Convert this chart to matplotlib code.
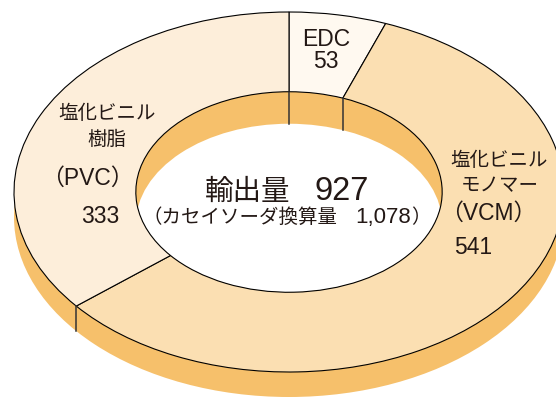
import numpy as np
import matplotlib
matplotlib.use("Agg")
import matplotlib.pyplot as plt
from matplotlib.patches import Ellipse
from matplotlib.transforms import Affine2D

# Latin glyphs from a Helvetica-like face, Japanese falls back to Noto CJK
plt.rcParams["font.family"] = ["Liberation Sans", "Noto Sans CJK JP"]

# slices, clockwise from 12 o'clock
categories = ["EDC", "VCM", "PVC"]
values = [53, 541, 333]
face_colors = ["#FFF9F0", "#FBDFB2", "#FDEEDA"]
side_color = "#F6C06B"

export_total = 927
soda_total = "1,078"

# ring geometry (pixels)
CX, CY = 289, 193
RX, RY = 275, 180
HOLE = 0.557
DEPTH_OUT = 25
DEPTH_IN = 32

fig = plt.figure(figsize=(5.56, 4.02), dpi=100)
ax = fig.add_axes([0, 0, 1, 1])


def squash(dy=0):
    # unit circle -> tilted ellipse in pixel space
    return Affine2D().scale(RX, -RY).translate(CX, CY + dy) + ax.transData


# outer side band: the whole ring pushed down
side = Ellipse((0, 0), 2, 2, facecolor=side_color, edgecolor="none", zorder=1)
ax.add_patch(side)
side.set_transform(squash(DEPTH_OUT))

# hole: far inner wall plus the see-through part
wall = Ellipse((0, 0), 2 * HOLE, 2 * HOLE, facecolor=side_color,
               edgecolor="none", zorder=1.5)
ax.add_patch(wall)
wall.set_transform(squash())
through = Ellipse((0, 0), 2 * HOLE, 2 * HOLE, facecolor="white",
                  edgecolor="none", zorder=1.6)
ax.add_patch(through)
through.set_transform(squash(DEPTH_IN))
through.set_clip_path(wall)

# top face
wedges, _ = ax.pie(values, colors=face_colors, startangle=90,
                   counterclock=False, radius=1, frame=True,
                   wedgeprops=dict(width=1 - HOLE, edgecolor="black",
                                   linewidth=0.8))
for w in wedges:
    w.set_transform(squash())
    w.set_zorder(2)

# slice edges down the visible sides
cum = np.cumsum([0] + values)[:-1]
angles = np.deg2rad(90 - 360 * cum / sum(values))
for a in angles:
    c, s = np.cos(a), np.sin(a)
    if s < -1e-6:
        x = CX + RX * c
        y = CY - RY * s
        ax.plot([x, x], [y, y + DEPTH_OUT], color="#333333", lw=1.1, zorder=3)
    if s > 1e-6:
        x = CX + RX * HOLE * c
        y = CY - RY * HOLE * s
        ax.plot([x, x], [y, y + DEPTH_IN], color="#333333", lw=1.1, zorder=3)

ax.set_xlim(0, 556)
ax.set_ylim(402, 0)
ax.set_aspect("auto")
ax.axis("off")

ink = "#231815"
jp = dict(ha="center", va="center", fontsize=14, color=ink, zorder=5)
en = dict(ha="center", va="center", fontsize=16.5, color=ink, zorder=5)

ax.text(107, 114, "塩化ビニル", **jp)
ax.text(107, 140, "樹脂", **jp)
ax.text(87, 178, "（PVC）", **en)
ax.text(100, 217, "333", **en)

ax.text(326, 40, "EDC", **en)
ax.text(326, 62, "53", **en)

ax.text(499, 161, "塩化ビニル", **jp)
ax.text(500, 187, "モノマー", **jp)
ax.text(488, 213, "（VCM）", **en)
ax.text(473, 248, "541", **en)

# centre caption, Japanese and figures set at different sizes on one baseline
mid = dict(ha="left", va="baseline", color=ink, zorder=5)
ax.text(205, 200, "輸出量", fontsize=20.5, **mid)
ax.text(315, 200, f"{export_total}", fontsize=23.5, **mid)
ax.text(142, 223, "（カセイソーダ換算量", fontsize=14, **mid)
ax.text(355, 223, soda_total, fontsize=16, **mid)
ax.text(411, 223, "）", fontsize=14, **mid)

fig.savefig("out.png", dpi=100)
